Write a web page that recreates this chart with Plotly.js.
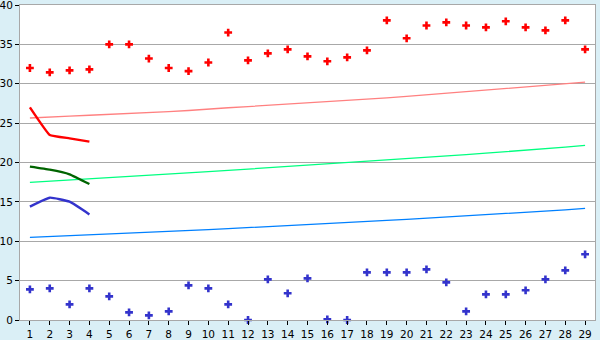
<!DOCTYPE html>
<html>
<head>
<meta charset="utf-8">
<script src="https://cdn.plot.ly/plotly-3.0.1.min.js"></script>
<style>
html,body{margin:0;padding:0;background:#daeff6;}
#chart{width:600px;height:340px;}
</style>
</head>
<body>
<div id="chart"></div>
<script>
const categories = ["1","2","3","4","5","6","7","8","9","10","11","12","13","14","15","16","17","18","19","20","21","22","23","24","25","26","27","28","29"];

const redPoints = [32.0,31.45,31.7,31.83,35.0,35.0,33.2,32.0,31.6,32.7,36.5,32.97,33.86,34.37,33.48,32.85,33.35,34.24,38.05,35.77,37.4,37.8,37.4,37.16,37.93,37.16,36.78,38.05,34.37];
const bluePoints = [3.89,4.02,1.99,4.02,3.0,0.97,0.59,1.1,4.4,4.02,1.99,0.0,5.16,3.39,5.29,0.08,0.0,6.05,6.05,6.05,6.43,4.78,1.1,3.26,3.26,3.77,5.16,6.3,8.34];

const curveCats = ["1","2","3","4"];
const redCurve = [27.0,23.5,23.07,22.65];
const greenCurve = [19.47,19.09,18.5,17.27];
const purpleCurve = [14.39,15.53,15.02,13.41];

const pinkTrend = [25.65,25.8,25.9,26.0,26.1,26.2,26.3,26.45,26.6,26.8,26.95,27.1,27.25,27.45,27.6,27.75,27.9,28.05,28.2,28.4,28.6,28.8,29.0,29.15,29.35,29.55,29.75,29.95,30.2];
const greenTrend = [17.48,17.62,17.77,17.92,18.07,18.22,18.37,18.52,18.68,18.84,19.0,19.16,19.32,19.48,19.65,19.82,19.98,20.15,20.32,20.49,20.66,20.83,21.0,21.18,21.36,21.54,21.72,21.95,22.18];
const blueTrend = [10.5,10.6,10.7,10.8,10.9,11.0,11.12,11.24,11.36,11.48,11.6,11.72,11.85,11.98,12.1,12.23,12.37,12.5,12.64,12.78,12.92,13.06,13.2,13.35,13.5,13.65,13.8,13.98,14.18];

const yTicks = [0,5,10,15,20,25,30,35,40];

const traces = [
  {x: categories, y: pinkTrend, mode: 'lines', line: {color: '#ff8080', width: 1.3}, hoverinfo: 'skip'},
  {x: categories, y: greenTrend, mode: 'lines', line: {color: '#00ff80', width: 1.3}, hoverinfo: 'skip'},
  {x: categories, y: blueTrend, mode: 'lines', line: {color: '#0080ff', width: 1.3}, hoverinfo: 'skip'},
  {x: curveCats, y: redCurve, mode: 'lines', line: {color: '#ff0000', width: 2.4, shape: 'spline', smoothing: 0.3}},
  {x: curveCats, y: greenCurve, mode: 'lines', line: {color: '#006400', width: 2.4, shape: 'spline', smoothing: 0.3}},
  {x: curveCats, y: purpleCurve, mode: 'lines', line: {color: '#3333cc', width: 2.4, shape: 'spline', smoothing: 0.4}},
  {x: categories, y: redPoints, mode: 'markers', marker: {symbol: 'cross', size: 6.5, color: '#ff0000', line: {width: 0}}, cliponaxis: false},
  {x: categories, y: bluePoints, mode: 'markers', marker: {symbol: 'cross', size: 6.5, color: '#3333cc', line: {width: 0}}, cliponaxis: false}
];

const layout = {
  width: 600, height: 340,
  margin: {l: 20, r: 5, t: 5, b: 20, pad: 0},
  paper_bgcolor: '#daeff6',
  plot_bgcolor: '#ffffff',
  showlegend: false,
  font: {family: 'DejaVu Sans, Verdana, sans-serif', size: 10.5, color: '#000000'},
  xaxis: {
    type: 'category',
    range: [-0.5, 28.5],
    tickvals: categories,
    ticktext: categories,
    ticks: 'outside', ticklen: 4, tickcolor: '#000000', tickwidth: 1,
    showgrid: false, zeroline: false,
    showline: true, linecolor: '#a8a8a8', linewidth: 1, mirror: true,
    ticklabeloverflow: 'allow',
    tickfont: {size: 10.5}
  },
  yaxis: {
    range: [0, 40],
    tickvals: yTicks,
    ticks: 'outside', ticklen: 4, tickcolor: '#000000', tickwidth: 1,
    showgrid: true, gridcolor: '#a8a8a8', gridwidth: 1,
    zeroline: false,
    showline: true, linecolor: '#a8a8a8', linewidth: 1, mirror: true,
    ticklabeloverflow: 'allow',
    tickfont: {size: 10.5}
  }
};

Plotly.newPlot('chart', traces, layout, {staticPlot: true, displayModeBar: false});
</script>
</body>
</html>
